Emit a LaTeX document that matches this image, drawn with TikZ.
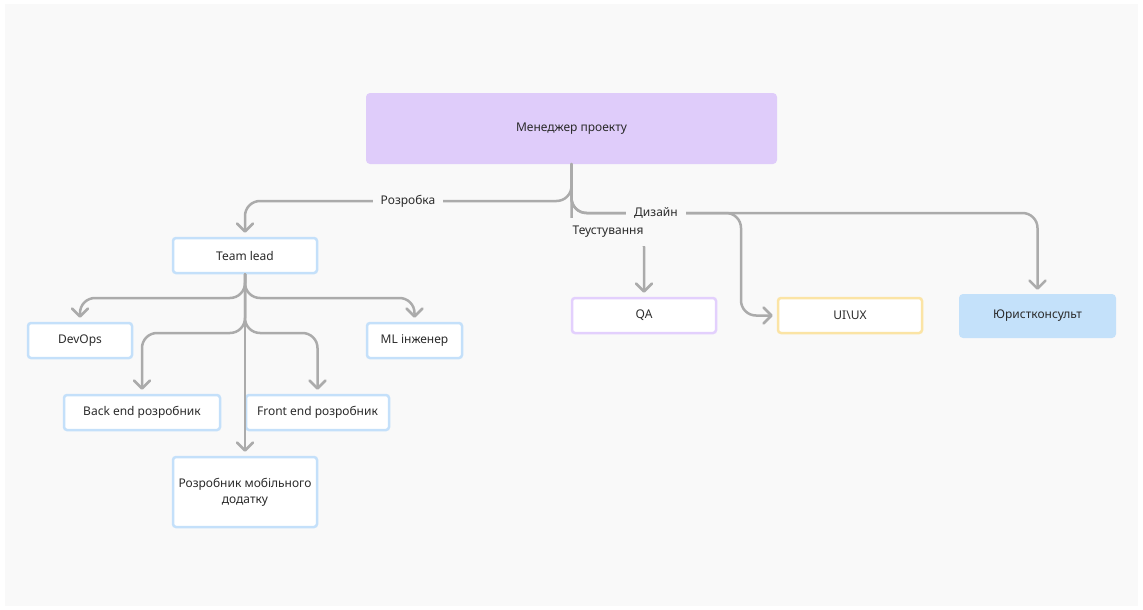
\documentclass[tikz,border=0pt]{standalone}
\usepackage{fontspec}
\setmainfont{Noto Sans}
\usetikzlibrary{arrows.meta}

\definecolor{canvas}{HTML}{F9F9F9}
\definecolor{wire}{HTML}{ABABAB}
\definecolor{ink}{HTML}{2B2B2B}
\definecolor{lilacfill}{HTML}{DFCCFA}
\definecolor{blueline}{HTML}{C4E0FA}
\definecolor{lilacline}{HTML}{E3D0FD}
\definecolor{sandline}{HTML}{FBE4A5}
\definecolor{bluefill}{HTML}{C4E1FA}

\tikzset{
  role/.style={draw=blueline, line width=2.5pt, rounded corners=3pt, fill=white,
    inner sep=0pt, minimum height=35pt, text=ink, font=\fontsize{12}{16}\selectfont, align=center},
  solid box/.style={draw=none, rounded corners=4pt, inner sep=0pt, text=ink,
    font=\fontsize{12}{16}\selectfont},
  link/.style={draw=wire, line width=2.5pt, rounded corners=15pt, line cap=round,
    -{Straight Barb[length=8pt,width=16pt,line cap=round,round]}, shorten >=4pt},
  tag/.style={fill=canvas, inner sep=8pt, text=ink, font=\fontsize{12}{16}\selectfont}
}

\begin{document}
\begin{tikzpicture}[x=1pt,y=-1pt]
  \useasboundingbox (0,0) rectangle (1143,610);
  \fill[canvas] (5,4) rectangle (1138,606);

  % top level
  \node[solid box, fill=lilacfill, minimum width=411pt, minimum height=71pt] (mgr) at (571.5,128.5) {Менеджер проекту};

  % development branch
  \node[role, minimum width=144pt] (tl) at (245,255.5) {Team lead};
  \node[role, minimum width=104pt] (devops) at (80,340.5) {DevOps};
  \node[role, minimum width=95pt] (ml) at (414.5,340.5) {ML інженер};
  \node[role, minimum width=156pt] (back) at (142,412.5) {Back end розробник};
  \node[role, minimum width=143pt] (front) at (317.5,412.5) {Front end розробник};
  \node[role, minimum width=144pt, minimum height=70pt] (mob) at (245,492) {Розробник мобільного\\додатку};

  % testing, design and legal
  \node[role, draw=lilacline, minimum width=144pt] (qa) at (644,315.5) {QA};
  \node[role, draw=sandline, minimum width=144pt] (ui) at (850,315.5) {UI\textbackslash UX};
  \node[solid box, fill=bluefill, minimum width=157pt, minimum height=44pt] (yur) at (1037.5,316) {Юристконсульт};

  % rows where the connectors run horizontally
  \coordinate (rowDev) at (0,201);
  \coordinate (rowTest) at (0,232);
  \coordinate (rowDes) at (0,213);
  \coordinate (rowA) at (0,298);
  \coordinate (rowB) at (0,333);
  \coordinate (uiBend) at (741,213);

  % connectors from the project manager
  \draw[link] (mgr.south) |- (tl.north |- rowDev) -- (tl.north);
  \draw[link] (mgr.south) |- (qa.north |- rowTest) -- (qa.north);
  \draw[link] (mgr.south) |- (yur.north |- rowDes) -- (yur.north);
  \draw[link] (mgr.south) |- (uiBend) |- (ui.west);

  % connectors from the team lead
  \draw[link] (tl.south) |- (devops.north |- rowA) -- (devops.north);
  \draw[link] (tl.south) |- (ml.north |- rowA) -- (ml.north);
  \draw[link] (tl.south) |- (back.north |- rowB) -- (back.north);
  \draw[link] (tl.south) |- (front.north |- rowB) -- (front.north);
  \draw[link] (tl.south) -- (mob.north);

  % connector labels
  \node[tag] (lblDev) at (408,201) {Розробка};
  \node[tag] (lblTest) at (608,232) {Теустування};
  \node[tag] (lblDes) at (656,213) {Дизайн};
\end{tikzpicture}
\end{document}
